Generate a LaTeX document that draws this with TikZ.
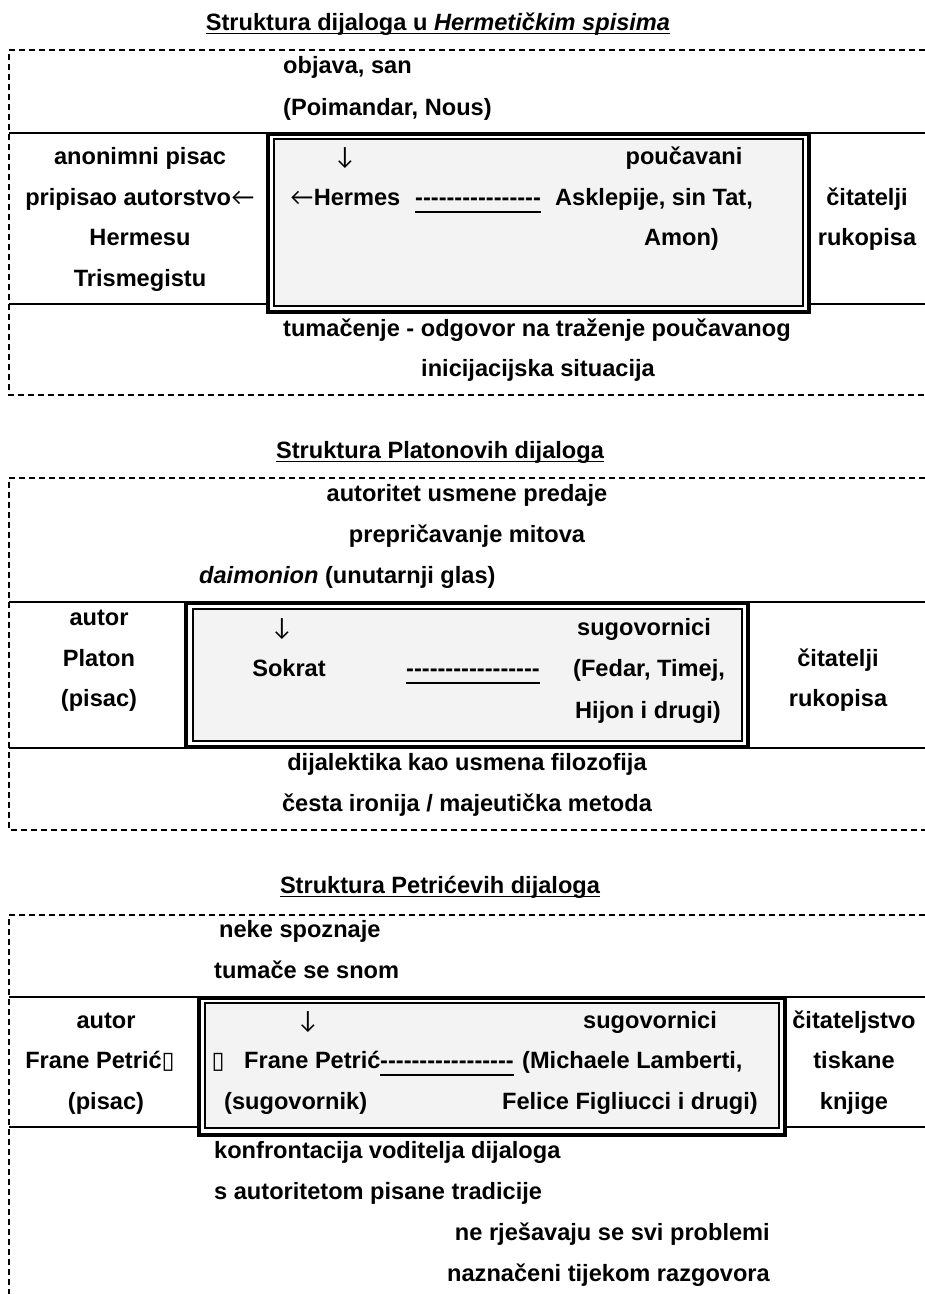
\documentclass[tikz,border=0pt]{standalone}
\usepackage{fontspec}
\setmainfont{Liberation Sans}
\newfontfamily\dv{DejaVu Sans}
\newfontfamily\latoarr{Lato}
\definecolor{boxgray}{RGB}{242,243,242}
\newcommand{\hh}{-\kern0pt}
\newcommand{\hhs}{\hh\hh\hh\hh\hh\hh\hh\hh}
\newcommand{\arr}[1]{{\latoarr\mdseries #1}}
\begin{document}
\begin{tikzpicture}[x=1pt,y=-1pt,
  font=\fontsize{23.6}{28}\selectfont\bfseries,
  lbl/.style={inner sep=0pt,anchor=mid,yshift=-6pt},
  lblw/.style={inner sep=0pt,anchor=mid west,yshift=-6pt},
  lble/.style={inner sep=0pt,anchor=mid east,yshift=-6pt},
  dline/.style={line width=1.3pt,dash pattern=on 6pt off 4pt},
  sline/.style={line width=2pt},
  obox/.style={line width=3.5pt,fill=white},
  ibox/.style={line width=2pt,fill=boxgray},
  uline/.style={line width=2.5pt},
  tline/.style={line width=1.6pt}]
\useasboundingbox (0,0) rectangle (925,1294);

% ---------------- Section 1
\node[lbl] (t1) at (438,22) {Struktura dijaloga u \textit{Hermetičkim spisima}};
\draw[tline] ([yshift=-3pt]t1.base west) -- ([yshift=-3pt]t1.base east);
\draw[dline] (925,50) -- (9,50) -- (9,395) -- (925,395);
\draw[sline] (9,133) -- (925,133);
\draw[sline] (9,304) -- (925,304);
\draw[obox] (268,134) rectangle (809,312);
\draw[ibox] (274,139) rectangle (803,306);
\node[lblw] (a1) at (283,65) {objava, san};
\node[lblw] (a2) at (283,107) {(Poimandar, Nous)};
\node[lbl] (l1) at (140,156) {anonimni pisac};
\node[lbl] (l2) at (140,197) {pripisao autorstvo\arr{←}};
\node[lbl] (l3) at (140,237) {Hermesu};
\node[lbl] (l4) at (140,278) {Trismegistu};
\node[lbl] (dn1) at (345,156) {\arr{↓}};
\node[lbl] (p1) at (684,156) {poučavani};
\node[lblw] (h1) at (290,197) {\arr{←}Hermes};
\node[lblw] (d1) at (415,197) {\hhs\hhs};
\draw[uline] ([yshift=-10pt]d1.west) -- ([yshift=-10pt]d1.east);
\node[lblw] (as1) at (555,197) {Asklepije, sin Tat,};
\node[lble] (am1) at (719,237) {Amon)};
\node[lbl] (r1) at (867,197) {čitatelji};
\node[lbl] (r2) at (867,237) {rukopisa};
\node[lblw] (b1) at (283,328) {tumačenje - odgovor na traženje poučavanog};
\node[lbl] (b2) at (538,368) {inicijacijska situacija};

% ---------------- Section 2
\node[lbl] (t2) at (440,450) {Struktura Platonovih dijaloga};
\draw[tline] ([yshift=-3pt]t2.base west) -- ([yshift=-3pt]t2.base east);
\draw[dline] (925,478) -- (9,478) -- (9,830) -- (925,830);
\draw[sline] (9,602) -- (925,602);
\draw[sline] (9,748) -- (925,748);
\draw[obox] (186,603) rectangle (748,747);
\draw[ibox] (193,609) rectangle (742,741);
\node[lbl] (c1) at (467,493) {autoritet usmene predaje};
\node[lbl] (c2) at (467,534) {prepričavanje mitova};
\node[lblw] (c3) at (199,575) {\textit{daimonion} (unutarnji glas)};
\node[lbl] (m1) at (99,617) {autor};
\node[lbl] (m2) at (99,658) {Platon};
\node[lbl] (m3) at (99,698) {(pisac)};
\node[lbl] (dn2) at (282,627) {\arr{↓}};
\node[lbl] (s2) at (644,627) {sugovornici};
\node[lbl] (so) at (289,668) {Sokrat};
\node[lblw] (d2) at (406,668) {\hhs\hhs\hh};
\draw[uline] ([yshift=-10pt]d2.west) -- ([yshift=-10pt]d2.east);
\node[lblw] (fe) at (573,668) {(Fedar, Timej,};
\node[lblw] (hi) at (575,710) {Hijon i drugi)};
\node[lbl] (r3) at (838,658) {čitatelji};
\node[lbl] (r4) at (838,698) {rukopisa};
\node[lbl] (e1) at (467,762) {dijalektika kao usmena filozofija};
\node[lbl] (e2) at (467,803) {česta ironija / majeutička metoda};

% ---------------- Section 3
\node[lbl] (t3) at (440,885) {Struktura Petrićevih dijaloga};
\draw[tline] ([yshift=-3pt]t3.base west) -- ([yshift=-3pt]t3.base east);
\draw[dline] (925,915) -- (9,915) -- (9,1294);
\draw[sline] (9,997) -- (925,997);
\draw[sline] (9,1127) -- (925,1127);
\draw[obox] (199,998) rectangle (785,1135);
\draw[ibox] (205,1003) rectangle (779,1128);
\node[lblw] (n1) at (219,929) {neke spoznaje};
\node[lblw] (n2) at (214,970) {tumače se snom};
\node[lbl] (k1) at (106,1020) {autor};
\node[lbl] (k2) at (100,1060) {Frane Petrić{\dv\mdseries ▯}};
\node[lbl] (k3) at (106,1101) {(pisac)};
\node[lbl] (dn3) at (308,1020) {\arr{↓}};
\node[lbl] (s3) at (650,1020) {sugovornici};
\node[lbl] (bx) at (218,1060) {{\dv\mdseries ▯}};
\node[lblw] (fp) at (244,1060) {Frane Petrić};
\node[lblw] (d3) at (380,1060) {\hhs\hhs\hh};
\draw[uline] ([yshift=-10pt]d3.west) -- ([yshift=-10pt]d3.east);
\node[lblw] (ml) at (522,1060) {(Michaele Lamberti,};
\node[lblw] (sg) at (224,1101) {(sugovornik)};
\node[lble] (ff) at (758,1101) {Felice Figliucci i drugi)};
\node[lbl] (q1) at (854,1020) {čitateljstvo};
\node[lbl] (q2) at (854,1060) {tiskane};
\node[lbl] (q3) at (854,1101) {knjige};
\node[lblw] (g1) at (214,1150) {konfrontacija voditelja dijaloga};
\node[lblw] (g2) at (214,1191) {s autoritetom pisane tradicije};
\node[lble] (g3) at (770,1232) {ne rješavaju se svi problemi};
\node[lble] (g4) at (770,1273) {naznačeni tijekom razgovora};
\end{tikzpicture}
\end{document}
